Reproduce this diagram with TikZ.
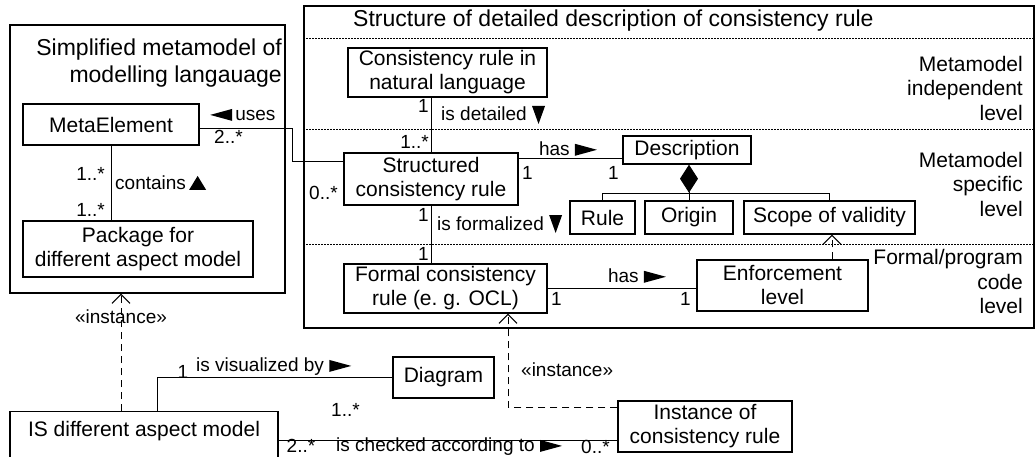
\documentclass[tikz,border=0pt]{standalone}
\usepackage{fontspec}
\setmainfont{Liberation Sans}
\usetikzlibrary{arrows.meta}
\newcommand{\clsfont}{\fontsize{21}{24}\selectfont}
\newcommand{\lblfont}{\fontsize{19}{22}\selectfont}
\newcommand{\ttlfont}{\fontsize{23}{27}\selectfont}
\newcommand{\lvlfont}{\fontsize{21}{24.5}\selectfont}
\newcommand{\rtri}{\tikz[baseline=0pt]\fill (0pt,0pt) -- (0pt,12pt) -- (22pt,6pt) -- cycle;}
\newcommand{\ltri}{\tikz[baseline=0pt]\fill (22pt,0pt) -- (22pt,12pt) -- (0pt,6pt) -- cycle;}
\newcommand{\dtri}{\tikz[baseline=0pt]\fill (0pt,15pt) -- (13pt,15pt) -- (6.5pt,-3pt) -- cycle;}
\newcommand{\utri}{\tikz[baseline=0pt]\fill (0pt,0pt) -- (17pt,0pt) -- (8.5pt,14pt) -- cycle;}

\begin{document}
\begin{tikzpicture}[x=1pt,y=-1pt,
    cls/.style={draw,line width=1.4pt,inner sep=0pt,align=center,font=\clsfont},
    pkgframe/.style={draw,line width=1.4pt,inner sep=0pt},
    lbl/.style={inner sep=0pt,font=\lblfont},
    lvl/.style={inner sep=0pt,font=\lvlfont,align=right,anchor=east},
    assoc/.style={line width=1pt},
    depend/.style={line width=1pt,dash pattern=on 7pt off 5pt,-{Straight Barb[length=9pt,width=18pt]}},
    lvlsep/.style={line width=0.8pt,dash pattern=on 1.5pt off 1.5pt}]
    \useasboundingbox (0,0) rectangle (1035,457);
    \clip (0,0) rectangle (1035,457);
    \node[pkgframe,minimum width=275,minimum height=268] (lframe) at (147.5,159) {};
    \node[pkgframe,minimum width=730,minimum height=322] (rframe) at (669,167) {};
    \node[inner sep=0pt,font=\ttlfont,align=right,anchor=east] (ltitle) at (282,63.5) {Simplified metamodel of\\modelling langauage};
    \node[inner sep=0pt,font=\ttlfont,anchor=west] (rtitle) at (353,21) {Structure of detailed description of consistency rule};
    \foreach \yy in {38,129,244}
        \draw[lvlsep] (rframe.west |- 0,\yy) -- (rframe.east |- 0,\yy);
    \node[lvl] (lvlind) at (1023,88) {Metamodel\\independent\\level};
    \node[lvl] (lvlspec) at (1023,184) {Metamodel\\specific\\level};
    \node[lvl] (lvlform) at (1023,281.5) {Formal/program\\code\\level};

    \node[cls,minimum width=176,minimum height=41] (meta) at (111,124.5) {MetaElement};
    \node[cls,minimum width=230,minimum height=56] (pkg) at (138,249) {Package for\\different aspect model};
    \node[cls,minimum width=199,minimum height=49] (natural) at (447.5,72.5) {Consistency rule in\\natural language};
    \node[cls,minimum width=174,minimum height=52] (struct) at (431,179) {Structured\\consistency rule};
    \node[cls,minimum width=128,minimum height=28] (desc) at (687,150) {Description};
    \node[cls,minimum width=65,minimum height=33] (rule) at (602.5,217.5) {Rule};
    \node[cls,minimum width=88,minimum height=33] (origin) at (689,217.5) {Origin};
    \node[cls,minimum width=171,minimum height=33] (scope) at (829.5,217.5) {Scope of validity};
    \node[cls,minimum width=203,minimum height=49] (formal) at (445.5,288.5) {Formal consistency\\rule (e.\ g. OCL)};
    \node[cls,minimum width=171,minimum height=51] (enforce) at (782.5,285.5) {Enforcement\\level};
    \node[cls,minimum width=101,minimum height=41] (diagram) at (443.5,377.5) {Diagram};
    \node[cls,minimum width=174,minimum height=51] (instrule) at (705,426.5) {Instance of\\consistency rule};
    \node[cls,minimum width=268,text height=25,text depth=24,anchor=north] (ismodel) at (144,411) {IS different aspect model};

    \draw[assoc] (meta.south) -- (meta.south |- pkg.north);
    \draw[assoc] ([yshift=-4.5pt]meta.east) -- ++(93,0) |- ([yshift=17pt]struct.west);
    \draw[assoc] (struct.north) -- (struct.north |- natural.south);
    \draw[assoc] (struct.south) -- (struct.south |- formal.north);
    \coordinate (hasA) at ([yshift=20pt]struct.east);
    \draw[assoc] (hasA) -- (hasA -| desc.west);
    \draw[assoc] (formal.east) -- (formal.east -| enforce.west);
    \coordinate (fork) at ([yshift=7pt]origin.north);
    \draw[assoc,-{Diamond[length=28pt,width=18pt]}] (fork) -- (fork |- desc.south);
    \draw[assoc] (rule.north) |- (fork) -| (scope.north);
    \draw[assoc] (origin.north) -- (fork);
    \coordinate (enfTop) at ([xshift=49.5pt]enforce.north);
    \draw[depend] (enfTop) -- (enfTop |- scope.south);
    \coordinate (isTop) at ([xshift=-23pt]ismodel.north);
    \draw[depend] (isTop) -- (isTop |- lframe.south);
    \draw[assoc] ([xshift=13pt]ismodel.north) |- (diagram.west);
    \coordinate (isRight) at ([yshift=-4.5pt]ismodel.east);
    \draw[assoc] (isRight) -- (isRight -| instrule.west);
    \coordinate (instL) at ([yshift=19.5pt]instrule.west);
    \draw[depend] (instL) -| ([xshift=62.5pt]formal.south);

    \node[lbl,anchor=west] (lcontains) at (115,183) {contains\,\utri};
    \node[lbl,anchor=west] (luses) at (210,115) {\ltri\,uses};
    \node[lbl,anchor=west] (ldetailed) at (441,115) {is detailed \dtri};
    \node[lbl] (lhas1) at (568,149) {has \rtri};
    \node[lbl,anchor=west] (lformalized) at (437,224) {is formalized \dtri};
    \node[lbl] (lhas2) at (637,276) {has \rtri};
    \node[lbl] (linst1) at (121,317) {«instance»};
    \node[lbl,anchor=west] (linst2) at (521,370) {«instance»};
    \node[lbl,anchor=west] (lvisual) at (196,367) {is visualized by \rtri};
    \node[lbl,anchor=west] (lchecked) at (336,447) {is checked according to \rtri};
    \foreach \nm/\xx/\yy/\anc/\txt in {m1/105/174/east/1..*, m2/105/210/east/1..*,
        m3/214/137/west/2..*, m4/309/193/west/0..*, m5/429/142/east/1..*, m6/429/106/east/1,
        m7/522/173/west/1, m8/619/173/east/1, m9/429/215/east/1, m10/429/254/east/1,
        m11/551/299/west/1, m12/691/299/east/1, m13/183/372/center/1, m14/331/410/west/1..*,
        m15/301/446/center/2..*, m16/581/447/west/0..*}
        \node[lbl,anchor=\anc] (\nm) at (\xx,\yy) {\txt};
\end{tikzpicture}
\end{document}
